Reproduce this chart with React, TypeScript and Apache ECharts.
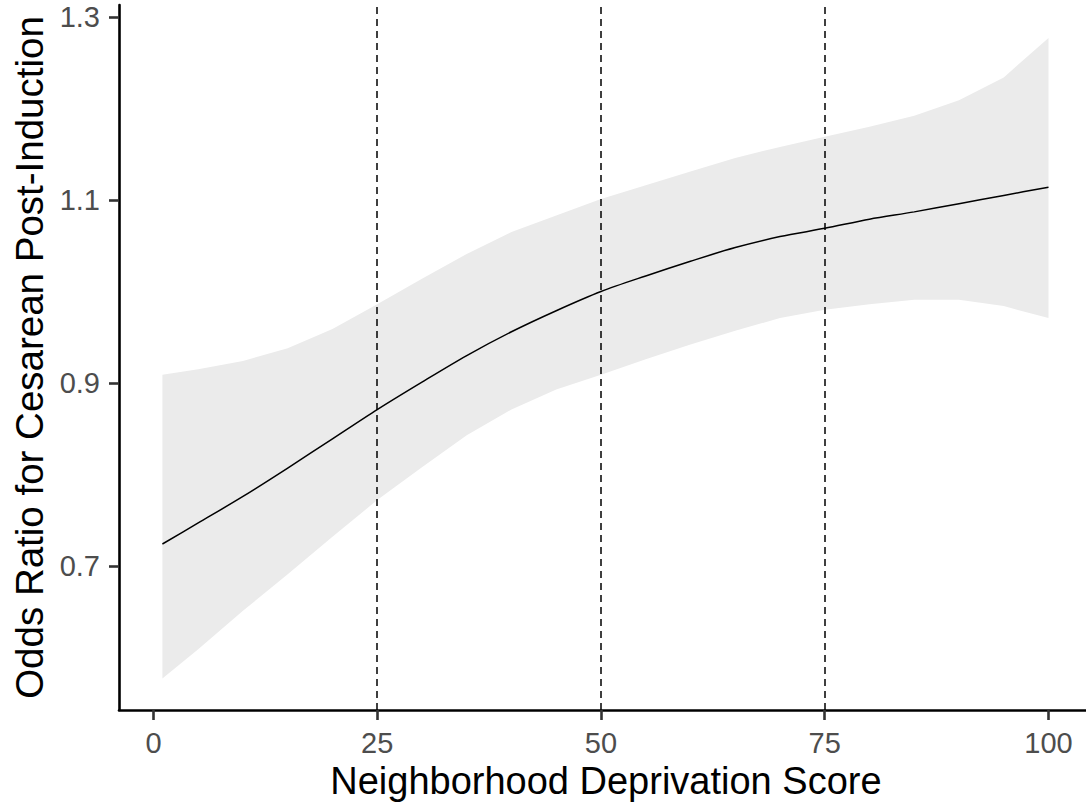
import React, { useEffect, useRef } from "react";
import * as echarts from "echarts";

// Neighborhood deprivation score (x) at which the curve was read
const xs = [1, 5, 10, 15, 20, 25, 30, 35, 40, 45, 50, 55, 60, 65, 70, 75, 80, 85, 90, 95, 100];
// Fitted odds ratio
const fit = [0.724, 0.747, 0.776, 0.807, 0.839, 0.871, 0.901, 0.930, 0.956, 0.979, 1.0, 1.017, 1.033, 1.048, 1.06, 1.069, 1.079, 1.087, 1.096, 1.105, 1.114];
// Confidence band
const lower = [0.577, 0.609, 0.651, 0.691, 0.732, 0.772, 0.808, 0.843, 0.871, 0.893, 0.909, 0.926, 0.942, 0.957, 0.971, 0.98, 0.986, 0.991, 0.991, 0.984, 0.971];
const upper = [0.909, 0.915, 0.924, 0.938, 0.959, 0.986, 1.014, 1.041, 1.065, 1.083, 1.101, 1.116, 1.131, 1.146, 1.158, 1.169, 1.18, 1.192, 1.209, 1.234, 1.277];
// Axis ticks and reference lines
const xTicks = [0, 25, 50, 75, 100];
const yTicks = [0.7, 0.9, 1.1, 1.3];
const refLines = [25, 50, 75];

const FONT = "'Liberation Sans', Arial, Helvetica, sans-serif";

export default function App() {
  const ref = useRef<HTMLDivElement>(null);

  useEffect(() => {
    if (!ref.current) return;
    const chart = echarts.init(ref.current, undefined, { renderer: "svg" });
    const bandData = xs.map((x, i) => [x, lower[i], upper[i]]);
    const option: any = {
      animation: false,
      backgroundColor: "#ffffff",
      textStyle: { fontFamily: FONT },
      grid: {
        left: 119,
        top: 5,
        width: 973.8,
        height: 705,
        containLabel: false,
        outerBoundsMode: "none",
      },
      xAxis: {
        type: "value",
        min: -3.85,
        max: 104.95,
        name: "Neighborhood Deprivation Score",
        nameLocation: "middle",
        nameGap: 51,
        nameTextStyle: { fontSize: 38, color: "#000000", fontFamily: FONT },
        axisLine: { show: true, onZero: false, lineStyle: { color: "#000000", width: 2.6 } },
        axisTick: { show: true, length: 10, customValues: xTicks, lineStyle: { color: "#333333", width: 2.6 } },
        axisLabel: {
          customValues: xTicks,
          margin: 18,
          fontSize: 29,
          color: "#4D4D4D",
          fontFamily: FONT,
          formatter: (v: number) => String(v),
        },
        splitLine: { show: false },
      },
      yAxis: {
        type: "value",
        min: 0.5426,
        max: 1.3131,
        name: "Odds Ratio for Cesarean Post-Induction",
        nameLocation: "middle",
        nameGap: 70,
        nameTextStyle: { fontSize: 38.5, color: "#000000", fontFamily: FONT },
        axisLine: { show: true, onZero: false, lineStyle: { color: "#000000", width: 2.6 } },
        axisTick: { show: true, length: 10, customValues: yTicks, lineStyle: { color: "#333333", width: 2.6 } },
        axisLabel: {
          customValues: yTicks,
          margin: 19,
          fontSize: 29,
          color: "#4D4D4D",
          fontFamily: FONT,
          formatter: (v: number) => v.toFixed(1),
        },
        splitLine: { show: false },
      },
      series: [
        {
          type: "custom",
          name: "band",
          silent: true,
          z: 1,
          data: bandData,
          encode: { x: 0, y: [1, 2] },
          renderItem: (params: any, api: any) => {
            if (params.dataIndex !== 0) return null;
            const pts: number[][] = [];
            for (let i = 0; i < xs.length; i++) pts.push(api.coord([xs[i], upper[i]]));
            for (let i = xs.length - 1; i >= 0; i--) pts.push(api.coord([xs[i], lower[i]]));
            return {
              type: "polygon",
              shape: { points: pts },
              style: { fill: "#EBEBEB", stroke: null },
              silent: true,
            };
          },
        },
        {
          type: "line",
          name: "fit",
          z: 3,
          data: xs.map((x, i) => [x, fit[i]]),
          smooth: 0.3,
          showSymbol: false,
          symbol: "none",
          lineStyle: { color: "#000000", width: 1.5 },
          silent: true,
          markLine: {
            silent: true,
            symbol: ["none", "none"],
            label: { show: false },
            lineStyle: { type: [7, 5], color: "#000000", width: 1.5 },
            data: refLines.map((v) => ({ xAxis: v })),
          },
        },
      ],
    };
    chart.setOption(option);
    return () => chart.dispose();
  }, []);

  return (
    <div
      style={{
        position: "fixed",
        left: 0,
        top: 0,
        width: 1086,
        height: 809,
        overflow: "hidden",
        background: "#ffffff",
      }}
    >
      <div ref={ref} style={{ width: 1100, height: 809 }} />
    </div>
  );
}
